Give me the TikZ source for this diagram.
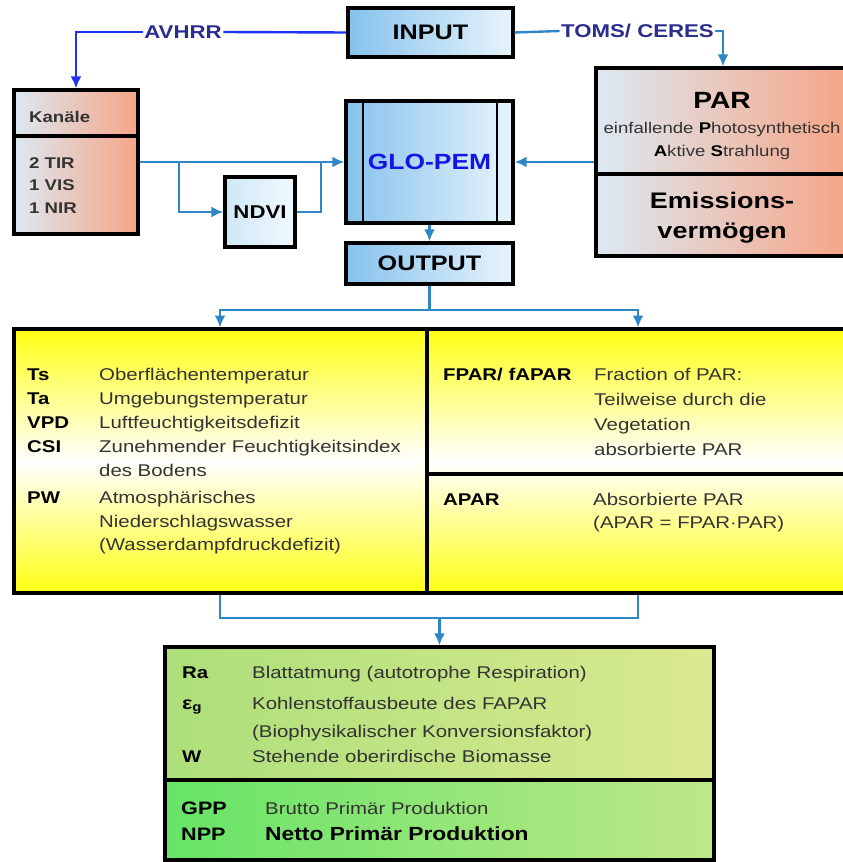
\documentclass[tikz,border=0pt]{standalone}
\usepackage{fontspec}
\setmainfont{Liberation Sans}[FakeStretch=1.2]
\usetikzlibrary{arrows.meta}

\definecolor{linkblue}{HTML}{2F86C6}
\definecolor{avhrrblue}{HTML}{1E32F0}
\definecolor{navy}{HTML}{2A2D8C}
\definecolor{pemblue}{HTML}{1414E6}
\definecolor{bluedark}{HTML}{86C2EC}
\definecolor{bluelight}{HTML}{E8F4FC}
\definecolor{ndvidark}{HTML}{CFE7F7}
\definecolor{ndvilight}{HTML}{F2F9FE}
\definecolor{greyblue}{HTML}{DCE9F2}
\definecolor{salmon}{HTML}{F6A486}
\definecolor{boxyellow}{HTML}{FFFF14}
\definecolor{greenA}{HTML}{ACDF7A}
\definecolor{greenB}{HTML}{DAE98F}
\definecolor{greenC}{HTML}{66E466}
\definecolor{greenD}{HTML}{BEE888}
\definecolor{textgrey}{HTML}{333333}

\tikzset{
  box/.style={draw=black, line width=3.2pt},
  bluebox/.style={box, left color=bluedark, right color=bluelight, font=\fontsize{21}{24}\selectfont\bfseries},
  salmonbox/.style={box, left color=greyblue, right color=salmon},
  link/.style={draw=linkblue, line width=2.4pt},
  src/.style={inner sep=1.5pt, font=\fontsize{18.5}{22}\selectfont\bfseries, text=navy},
  key/.style={anchor=base west, inner sep=0pt, font=\fontsize{17}{20}\selectfont\bfseries},
  desc/.style={anchor=base west, inner sep=0pt, font=\fontsize{17}{20}\selectfont, text=textgrey},
  chan/.style={anchor=base west, inner sep=0pt, font=\fontsize{15.5}{18}\selectfont\bfseries, text=textgrey},
  partext/.style={anchor=base, inner sep=0pt, font=\fontsize{15.5}{18}\selectfont, text=textgrey},
  bigtext/.style={anchor=base, inner sep=0pt, font=\fontsize{22.5}{26}\selectfont\bfseries},
}

\begin{document}
\begin{tikzpicture}[x=1pt, y=-1pt, >={Latex[length=12pt,width=11pt]}]
    \clip (0,0) rectangle (843,862);

    \node[bluebox, minimum width=165pt, minimum height=49pt] (input) at (430.5,32.5) {INPUT};
    \node[salmonbox, minimum width=124pt, minimum height=144pt] (kanaele) at (76,162) {};
    \node[bluebox, left color=ndvidark, right color=ndvilight, minimum width=70pt, minimum height=70pt, font=\fontsize{18.5}{22}\selectfont\bfseries] (ndvi) at (260,212) {NDVI};
    \node[bluebox, minimum width=167pt, minimum height=122pt, text=pemblue, font=\fontsize{22}{26}\selectfont\bfseries] (glopem) at (429.5,162) {GLO-PEM};
    \node[salmonbox, minimum width=254pt, minimum height=188pt] (par) at (723,162) {};
    \node[bluebox, minimum width=167pt, minimum height=41pt] (output) at (429.5,263.5) {OUTPUT};
    \node[box, top color=boxyellow, bottom color=boxyellow, middle color=white, minimum width=838pt, minimum height=264pt] (params) at (433,461) {};

    \shade[left color=greenA, right color=greenB] (165,647) rectangle (714,780);
    \shade[left color=greenC, right color=greenD] (165,780) rectangle (714,860);
    \node[box, minimum width=549pt, minimum height=213pt] (green) at (439.5,753.5) {};

    \draw[box] (14,136) -- (138,136);
    \draw[box, line width=2.6pt] (363,101) -- (363,223);
    \draw[box, line width=2.6pt] (497,101) -- (497,223);
    \draw[box] (596,174) -- (850,174);
    \draw[box] (427,329) -- (427,593);
    \draw[box] (427,474) -- (852,474);
    \draw[box] (165,780) -- (714,780);

    % sources
    \node[src] (avhrr) at (183,32) {AVHRR};
    \node[src] (toms) at (637.5,31) {TOMS/ CERES};
    \draw[link, draw=avhrrblue] (input.west) -- (avhrr.east);
    \draw[link, draw=avhrrblue, ->] (avhrr.west) -| (kanaele.north);
    \draw[link] (input.east) -- (toms.west);
    \draw[link, ->] (toms.east) -| (par.north);

    \coordinate (split) at (179,162);
    \coordinate (join) at (321,162);
    \draw[link, ->] (kanaele.east) -- (glopem.west);
    \draw[link, ->] (split) |- (ndvi.west);
    \draw[link] (ndvi.east) -| (join);
    \draw[link, ->] (par.west) -- (glopem.east);
    \draw[link, ->] (glopem.south) -- (output.north);

    \coordinate (fork) at (429.5,310);
    \coordinate (inleft) at (220,327.5);
    \coordinate (inright) at (638,327.5);
    \draw[link] (output.south) -- (fork);
    \draw[link, ->] (fork) -| (inleft);
    \draw[link, ->] (fork) -| (inright);

    \coordinate (outleft) at (220,595);
    \coordinate (outright) at (638,595);
    \coordinate (merge) at (439.5,618);
    \draw[link] (outleft) |- (merge) -| (outright);
    \draw[link, ->] (merge) -- (green.north);

    \node[chan] (kanal) at (29,122) {Kanäle};
    \node[chan] (tir) at (29,168) {2 TIR};
    \node[chan] (vis) at (29,190) {1 VIS};
    \node[chan] (nir) at (29,213) {1 NIR};

    \node[bigtext, font=\fontsize{23.5}{26}\selectfont\bfseries] (partitle) at (722,108) {PAR};
    \node[partext] (parone) at (722,133) {einfallende \textcolor{black}{\textbf{P}}hotosynthetisch};
    \node[partext] (partwo) at (722,156) {\textcolor{black}{\textbf{A}}ktive \textcolor{black}{\textbf{S}}trahlung};
    \node[bigtext] (emisone) at (722,208) {Emissions-};
    \node[bigtext] (emistwo) at (722,238) {vermögen};

    \node[key] (ts) at (27,380) {Ts};
    \node[desc] (tsd) at (99,380) {Oberflächentemperatur};
    \node[key] (ta) at (27,404) {Ta};
    \node[desc] (tad) at (99,404) {Umgebungstemperatur};
    \node[key] (vpd) at (27,428) {VPD};
    \node[desc] (vpdd) at (99,428) {Luftfeuchtigkeitsdefizit};
    \node[key] (csi) at (27,452) {CSI};
    \node[desc] (csid) at (99,452) {Zunehmender Feuchtigkeitsindex};
    \node[desc] (csie) at (99,476) {des Bodens};
    \node[key] (pw) at (27,503) {PW};
    \node[desc] (pwd) at (99,503) {Atmosphärisches};
    \node[desc] (pwe) at (99,527) {Niederschlagswasser};
    \node[desc] (pwf) at (99,550) {(Wasserdampfdruckdefizit)};

    \node[key] (fpar) at (443,380) {FPAR/ fAPAR};
    \node[desc] (fpard) at (594,380) {Fraction of PAR:};
    \node[desc] (fpare) at (594,405) {Teilweise durch die};
    \node[desc] (fparf) at (594,430) {Vegetation};
    \node[desc] (fparg) at (594,455) {absorbierte PAR};
    \node[key] (apar) at (443,505) {APAR};
    \node[desc] (apard) at (593,505) {Absorbierte PAR};
    \node[desc] (apare) at (593,528) {(APAR = FPAR·PAR)};

    \node[key] (ra) at (182,678) {Ra};
    \node[desc] (rad) at (252,678) {Blattatmung (autotrophe Respiration)};
    \node[key, font=\fontsize{18}{20}\selectfont\bfseries] (eg) at (182,709) {ε\textsubscript{g}};
    \node[desc] (egd) at (252,709) {Kohlenstoffausbeute des FAPAR};
    \node[desc] (ege) at (252,737) {(Biophysikalischer Konversionsfaktor)};
    \node[key] (w) at (182,762) {W};
    \node[desc] (wd) at (252,762) {Stehende oberirdische Biomasse};
    \node[key, font=\fontsize{18}{20}\selectfont\bfseries] (gpp) at (181,814) {GPP};
    \node[desc] (gppd) at (265,814) {Brutto Primär Produktion};
    \node[key, font=\fontsize{18}{20}\selectfont\bfseries] (npp) at (181,840) {NPP};
    \node[key, font=\fontsize{19}{22}\selectfont\bfseries] (nppd) at (265,840) {Netto Primär Produktion};
\end{tikzpicture}
\end{document}
